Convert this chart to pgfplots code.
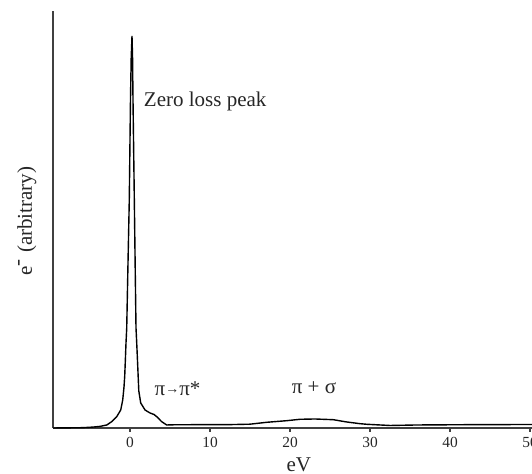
\documentclass[border=0pt]{standalone}
\usepackage{fontspec}
\setmainfont{Liberation Serif}
\usepackage{pgfplots}
\pgfplotsset{compat=1.18}
\begin{document}
\begin{tikzpicture}
\begin{axis}[
  name=ax,
  scale only axis,
  width=239.5pt, height=208.5pt,
  xmin=-9.625, xmax=50.25,
  ymin=0, ymax=417,
  axis x line=bottom, axis y line=left,
  axis line style={-, black!75, line width=0.8pt},
  xtick={0,10,20,30,40,50},
  ytick=\empty,
  tick align=outside,
  major tick length=2pt,
  tick style={black!75, line width=0.6pt},
  /pgf/number format/assume math mode=true,
  xticklabel style={font=\fontsize{7.7}{9}\selectfont, black!85, yshift=1pt},
  clip=false,
]
\addplot[black, line width=0.7pt] table {
x y
-9.6 0
-6 0.3
-5.25 0.6
-4.5 1.0
-3.75 1.6
-2.9 3
-2.29 6.3
-1.66 11.3
-1.16 18
-0.91 28
-0.75 41
-0.66 52
-0.58 68
-0.5 85
-0.41 100
-0.25 165
-0.09 228
0.06 328
0.15 370
0.25 392
0.32 370
0.375 328
0.54 228
0.65 160
0.75 100
0.84 85
0.95 65
1.04 48
1.1 37
1.34 25
1.88 18
2.5 15
3.0 13.5
3.34 11.3
3.96 6.3
4.59 3
5.5 3.2
8 3.3
12 3.3
15 3.8
17.1 5.7
19.6 7.3
21.25 8.7
23.1 9
25.4 8.3
27.1 6
28.75 4.3
29.6 3.7
32.5 2.5
35.8 3.0
42 3.3
50.25 3.5
};
\node[font=\fontsize{10.5}{12}\selectfont, black!85] at (axis cs:9.4,327) {Zero loss peak};
\node[font=\fontsize{10.5}{12}\selectfont, black!85] at (axis cs:5.94,39.5) {π\raisebox{0.8pt}{\fontsize{7}{8}\selectfont→}π*};
\node[font=\fontsize{10.5}{12}\selectfont, black!85] at (axis cs:23,40) {π + σ};
\node[font=\fontsize{10.5}{12}\selectfont, black!85] at (axis cs:21.1,-37) {eV};
\node[font=\fontsize{10.5}{12}\selectfont, black!85, rotate=90] at (axis cs:-12.9,207) {e$^{\textrm{-}}$ (arbitrary)};
\end{axis}
\pgfresetboundingbox
\path[use as bounding box] (ax.south west) ++(-26.5pt,-23pt) rectangle ++(266pt,237pt);
\end{tikzpicture}
\end{document}
